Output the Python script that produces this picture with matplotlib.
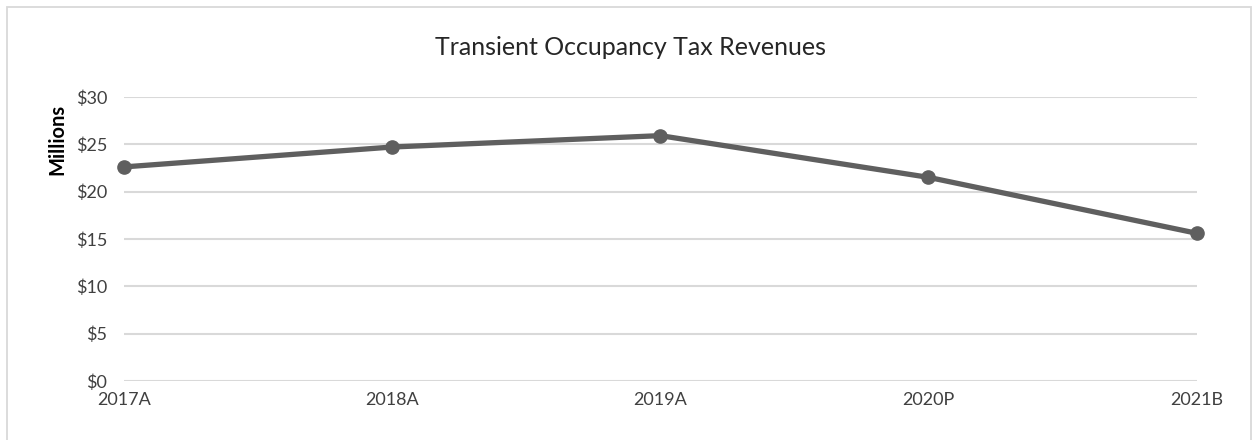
import matplotlib.pyplot as plt
from matplotlib.patches import Rectangle
from matplotlib.ticker import FuncFormatter

# --- DATA (millions of dollars) ---
years = ['2017A', '2018A', '2019A', '2020P', '2021B']
revenue = [22.6, 24.7, 25.9, 21.5, 15.6]
y_ticks = [0, 5, 10, 15, 20, 25, 30]

plt.rcParams['font.family'] = ['Lato', 'DejaVu Sans']

fig = plt.figure(figsize=(12.53, 4.40), dpi=100)
ax = fig.add_axes([0.099, 0.134, 0.856, 0.646])

x = range(len(years))
ax.plot(x, revenue, color='#5f5f5f', linewidth=3.8, marker='o', markersize=9.5,
        clip_on=False, zorder=5)

ax.set_xlim(0, len(years) - 1)
ax.set_ylim(0, 30)
ax.set_xticks(list(x))
ax.set_xticklabels(years)
ax.set_yticks(y_ticks)
ax.yaxis.set_major_formatter(FuncFormatter(lambda v, p: f'${v:.0f}'))

ax.grid(axis='y', color='#d9d9d9', linewidth=1.5)
ax.set_axisbelow(True)
for s in ax.spines.values():
    s.set_visible(False)
ax.tick_params(axis='both', length=0, labelsize=13, labelcolor='#404040')
ax.tick_params(axis='y', pad=12)
ax.tick_params(axis='x', pad=8)

fig.text(0.5035, 0.893, 'Transient Occupancy Tax Revenues', ha='center', va='center',
         fontsize=18, color='#262626')
fig.text(0.046, 0.682, 'Millions', rotation=90, ha='center', va='center',
         fontsize=14.5, fontweight='bold', color='#000000')

# chart border
fig.patches.append(Rectangle((7 / 1253, -0.05), (1251 - 7) / 1253, 1.05 - 7 / 440,
                             transform=fig.transFigure, fill=False,
                             edgecolor='#d9d9d9', linewidth=1.3))

fig.savefig('out.png', dpi=100)
